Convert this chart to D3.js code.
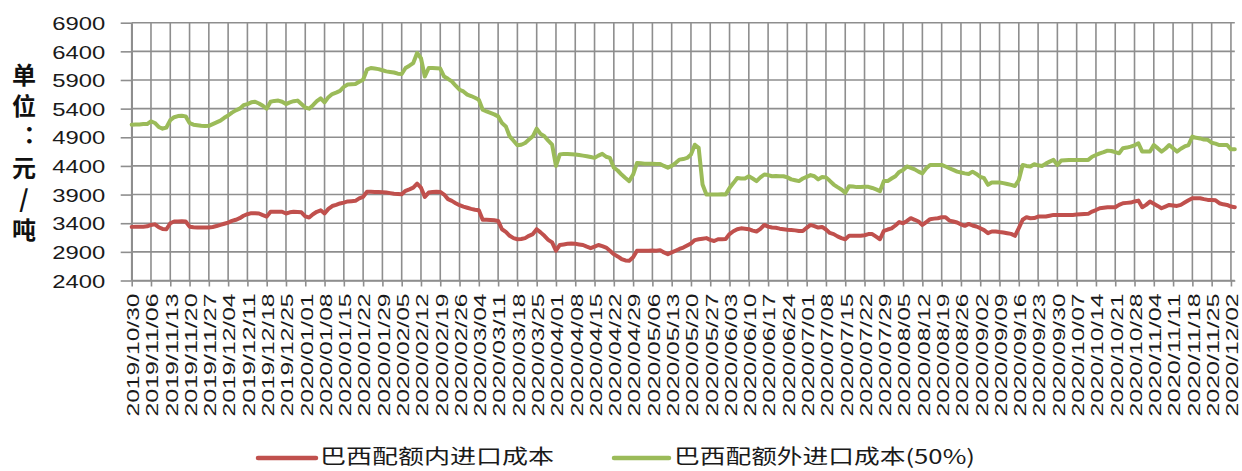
<!DOCTYPE html>
<html><head><meta charset="utf-8">
<script src="https://cdn.jsdelivr.net/npm/d3@7/dist/d3.min.js"></script>
<style>html,body{margin:0;padding:0;background:#fff;}svg{display:block;}
.ytitle{writing-mode:vertical-rl;text-orientation:upright;font-feature-settings:"vert" 0;}</style>
</head><body>
<svg id="chart" width="1242" height="471"></svg>
<script>
const seriesNames = ["巴西配额内进口成本", "巴西配额外进口成本(50%)"];
const seriesColors = ["#C0504D", "#9BBB59"];
const yTickValues = [2400, 2900, 3400, 3900, 4400, 4900, 5400, 5900, 6400, 6900];
const yTitle = "单位：元/吨";
const tickLabels = [
"2019/10/30","2019/11/06","2019/11/13","2019/11/20","2019/11/27","2019/12/04","2019/12/11","2019/12/18","2019/12/25",
"2020/01/01","2020/01/08","2020/01/15","2020/01/22","2020/01/29","2020/02/05","2020/02/12","2020/02/19","2020/02/26",
"2020/03/04","2020/03/11","2020/03/18","2020/03/25","2020/04/01","2020/04/08","2020/04/15","2020/04/22","2020/04/29",
"2020/05/06","2020/05/13","2020/05/20","2020/05/27","2020/06/03","2020/06/10","2020/06/17","2020/06/24","2020/07/01",
"2020/07/08","2020/07/15","2020/07/22","2020/07/29","2020/08/05","2020/08/12","2020/08/19","2020/08/26","2020/09/02",
"2020/09/09","2020/09/16","2020/09/23","2020/09/30","2020/10/07","2020/10/14","2020/10/21","2020/10/28","2020/11/04",
"2020/11/11","2020/11/18","2020/11/25","2020/12/02"];
const quotaIn = [
3336,3340,3340,3340,3345,3370,3380,3330,3300,3295,
3400,3430,3430,3435,3430,3340,3330,3325,3325,3325,
3325,3335,3350,3370,3390,3410,3440,3460,3487,3530,
3557,3575,3575,3570,3540,3515,3600,3600,3600,3600,
3570,3590,3600,3595,3590,3520,3500,3557,3600,3625,
3570,3650,3700,3720,3745,3760,3780,3785,3790,3835,
3860,3950,3950,3945,3945,3940,3935,3925,3915,3910,
3905,3965,3990,4020,4090,4020,3860,3935,3945,3950,
3945,3900,3820,3790,3750,3715,3690,3670,3650,3635,
3625,3460,3460,3455,3450,3440,3295,3250,3180,3140,
3120,3125,3140,3180,3210,3295,3240,3180,3110,3065,
2920,3020,3030,3040,3045,3040,3030,3020,2990,2965,
2990,3020,3000,2975,2920,2860,2820,2775,2750,2745,
2805,2920,2920,2920,2920,2925,2920,2930,2890,2860,
2890,2920,2950,2975,3010,3045,3105,3120,3130,3140,
3110,3090,3120,3120,3125,3210,3260,3295,3310,3305,
3295,3270,3255,3300,3370,3340,3325,3320,3305,3295,
3285,3280,3275,3265,3265,3320,3370,3350,3325,3335,
3290,3230,3210,3170,3140,3120,3180,3180,3180,3180,
3190,3210,3210,3165,3120,3265,3290,3310,3360,3420,
3400,3440,3487,3460,3430,3370,3420,3470,3480,3487,
3505,3505,3446,3430,3412,3380,3354,3388,3360,3342,
3313,3280,3226,3255,3255,3245,3237,3225,3214,3180,
3313,3460,3505,3487,3490,3516,3516,3516,3530,3545,
3545,3545,3545,3545,3545,3550,3555,3560,3563,3603,
3630,3661,3670,3679,3679,3679,3720,3749,3755,3760,
3780,3795,3679,3720,3777,3740,3702,3661,3690,3719,
3710,3702,3720,3760,3800,3836,3836,3836,3820,3807,
3807,3800,3749,3730,3719,3690,3679];
const quotaOut = [
5120,5125,5125,5130,5130,5180,5150,5080,5050,5070,
5200,5250,5270,5275,5265,5150,5120,5110,5100,5095,
5100,5130,5160,5190,5240,5280,5330,5370,5400,5460,
5480,5510,5520,5490,5450,5400,5520,5535,5540,5520,
5480,5510,5530,5540,5480,5420,5400,5460,5530,5580,
5510,5600,5655,5680,5710,5780,5820,5825,5830,5870,
5905,6080,6110,6100,6090,6070,6050,6040,6030,6010,
6005,6110,6150,6195,6370,6280,5960,6110,6110,6105,
6100,5960,5920,5875,5800,5730,5700,5645,5620,5590,
5555,5380,5350,5325,5300,5265,5150,5090,4915,4840,
4760,4770,4800,4860,4917,5050,4960,4917,4840,4770,
4400,4600,4610,4610,4605,4600,4590,4580,4570,4555,
4540,4580,4610,4560,4540,4370,4320,4250,4190,4135,
4250,4450,4445,4440,4440,4440,4435,4435,4400,4370,
4400,4450,4510,4520,4540,4600,4770,4715,4075,3900,
3900,3900,3900,3905,3900,4015,4100,4190,4180,4180,
4220,4180,4135,4200,4250,4240,4220,4225,4220,4220,
4200,4165,4150,4135,4180,4210,4240,4220,4165,4205,
4200,4140,4075,4030,3990,3930,4045,4040,4030,4030,
4035,4035,4015,3990,3960,4135,4135,4180,4220,4295,
4330,4390,4365,4340,4300,4270,4360,4417,4417,4417,
4417,4390,4360,4330,4300,4285,4270,4260,4300,4260,
4210,4185,4070,4110,4110,4110,4100,4085,4070,4050,
4155,4417,4400,4390,4430,4410,4400,4440,4475,4505,
4417,4495,4500,4505,4505,4505,4505,4505,4505,4560,
4590,4620,4640,4667,4660,4640,4620,4710,4720,4737,
4760,4795,4650,4650,4650,4765,4710,4650,4700,4765,
4710,4650,4700,4740,4765,4911,4890,4880,4860,4855,
4805,4790,4765,4765,4765,4690,4690];
const labelStep = 5;

(function () {
const svg = d3.select("#chart");
const plotLeft = 131.7, step = 3.857, plotTop = 22.7, plotBottom = 280.5;
const n = quotaIn.length;
const x = d3.scaleLinear().domain([0, n - 1]).range([plotLeft, plotLeft + (n - 1) * step]);
const y = d3.scaleLinear().domain([2400, 6900]).range([plotBottom, plotTop]);
const xTickIdx = tickLabels.map((d, k) => k * labelStep);
const gridColor = "#8e8e8e";

// grid
const grid = svg.append("g");
grid.selectAll("line.h").data(yTickValues).join("line").attr("class", "h")
  .attr("x1", plotLeft).attr("x2", x(n - 1)).attr("y1", d => y(d)).attr("y2", d => y(d))
  .attr("stroke", gridColor).attr("stroke-width", 1.6);
grid.selectAll("line.v").data(xTickIdx).join("line").attr("class", "v")
  .attr("x1", d => x(d)).attr("x2", d => x(d)).attr("y1", plotTop).attr("y2", plotBottom)
  .attr("stroke", gridColor).attr("stroke-width", 1.6);

// y axis
const yAxis = svg.append("g").attr("transform", `translate(${plotLeft},0)`)
  .call(d3.axisLeft(y).tickValues(yTickValues).tickSize(11).tickSizeOuter(0).tickPadding(15.5).tickFormat(d3.format("d")));
yAxis.select(".domain").attr("stroke", gridColor).attr("stroke-width", 1.6);
yAxis.selectAll(".tick line").attr("stroke", gridColor).attr("stroke-width", 1.6);
yAxis.selectAll(".tick text")
  .attr("font-family", "'Liberation Sans', Arial, sans-serif").attr("font-size", 18.6)
  .attr("fill", "#1a1a1a").attr("dy", "0.36em")
  .attr("textLength", 53).attr("lengthAdjust", "spacingAndGlyphs");

// x axis
const xAxis = svg.append("g").attr("transform", `translate(0,${plotBottom})`)
  .call(d3.axisBottom(x).tickValues(xTickIdx).tickSize(6).tickSizeOuter(0).tickFormat((d, k) => tickLabels[k]));
xAxis.select(".domain").attr("stroke", gridColor).attr("stroke-width", 1.6);
xAxis.selectAll(".tick line").attr("stroke", gridColor).attr("stroke-width", 1.6);
xAxis.selectAll(".tick text")
  .attr("font-family", "'Liberation Sans', Arial, sans-serif").attr("font-size", 16)
  .attr("fill", "#1a1a1a")
  .attr("transform", "rotate(-90)")
  .attr("x", -13).attr("y", 1).attr("dy", "0.36em")
  .attr("text-anchor", "end")
  .attr("textLength", 123).attr("lengthAdjust", "spacingAndGlyphs");

// lines
const line = d3.line().x((d, i) => x(i)).y(d => y(d));
[quotaIn, quotaOut].forEach((arr, s) => {
  svg.append("path").datum(arr)
    .attr("d", line).attr("fill", "none")
    .attr("stroke", seriesColors[s]).attr("stroke-width", 4)
    .attr("stroke-linejoin", "round").attr("stroke-linecap", "round");
});

// y title: vertical writing, single text element
svg.append("text").attr("class", "ytitle")
  .attr("x", 24).attr("y", 63)
  .attr("font-family", "'Noto Sans CJK SC', sans-serif").attr("font-weight", "bold")
  .attr("font-size", 24).attr("fill", "#111")
  .attr("letter-spacing", 7)
  .text(yTitle);

// legend
const legend = [
  {x1: 258, x2: 316, tx: 320, tl: 234},
  {x1: 614, x2: 669, tx: 674, tl: 301}
];
const lg = svg.append("g");
legend.forEach((L, s) => {
  lg.append("line").attr("x1", L.x1).attr("x2", L.x2).attr("y1", 458).attr("y2", 458)
    .attr("stroke", seriesColors[s]).attr("stroke-width", 4.5).attr("stroke-linecap", "round");
  lg.append("text").attr("x", L.tx).attr("y", 457).attr("dy", "0.36em")
    .attr("font-family", "'Noto Sans CJK SC', sans-serif").attr("font-size", 20)
    .attr("fill", "#1a1a1a")
    .attr("textLength", L.tl).attr("lengthAdjust", "spacingAndGlyphs")
    .text(seriesNames[s]);
});
})();
</script>
</body></html>
